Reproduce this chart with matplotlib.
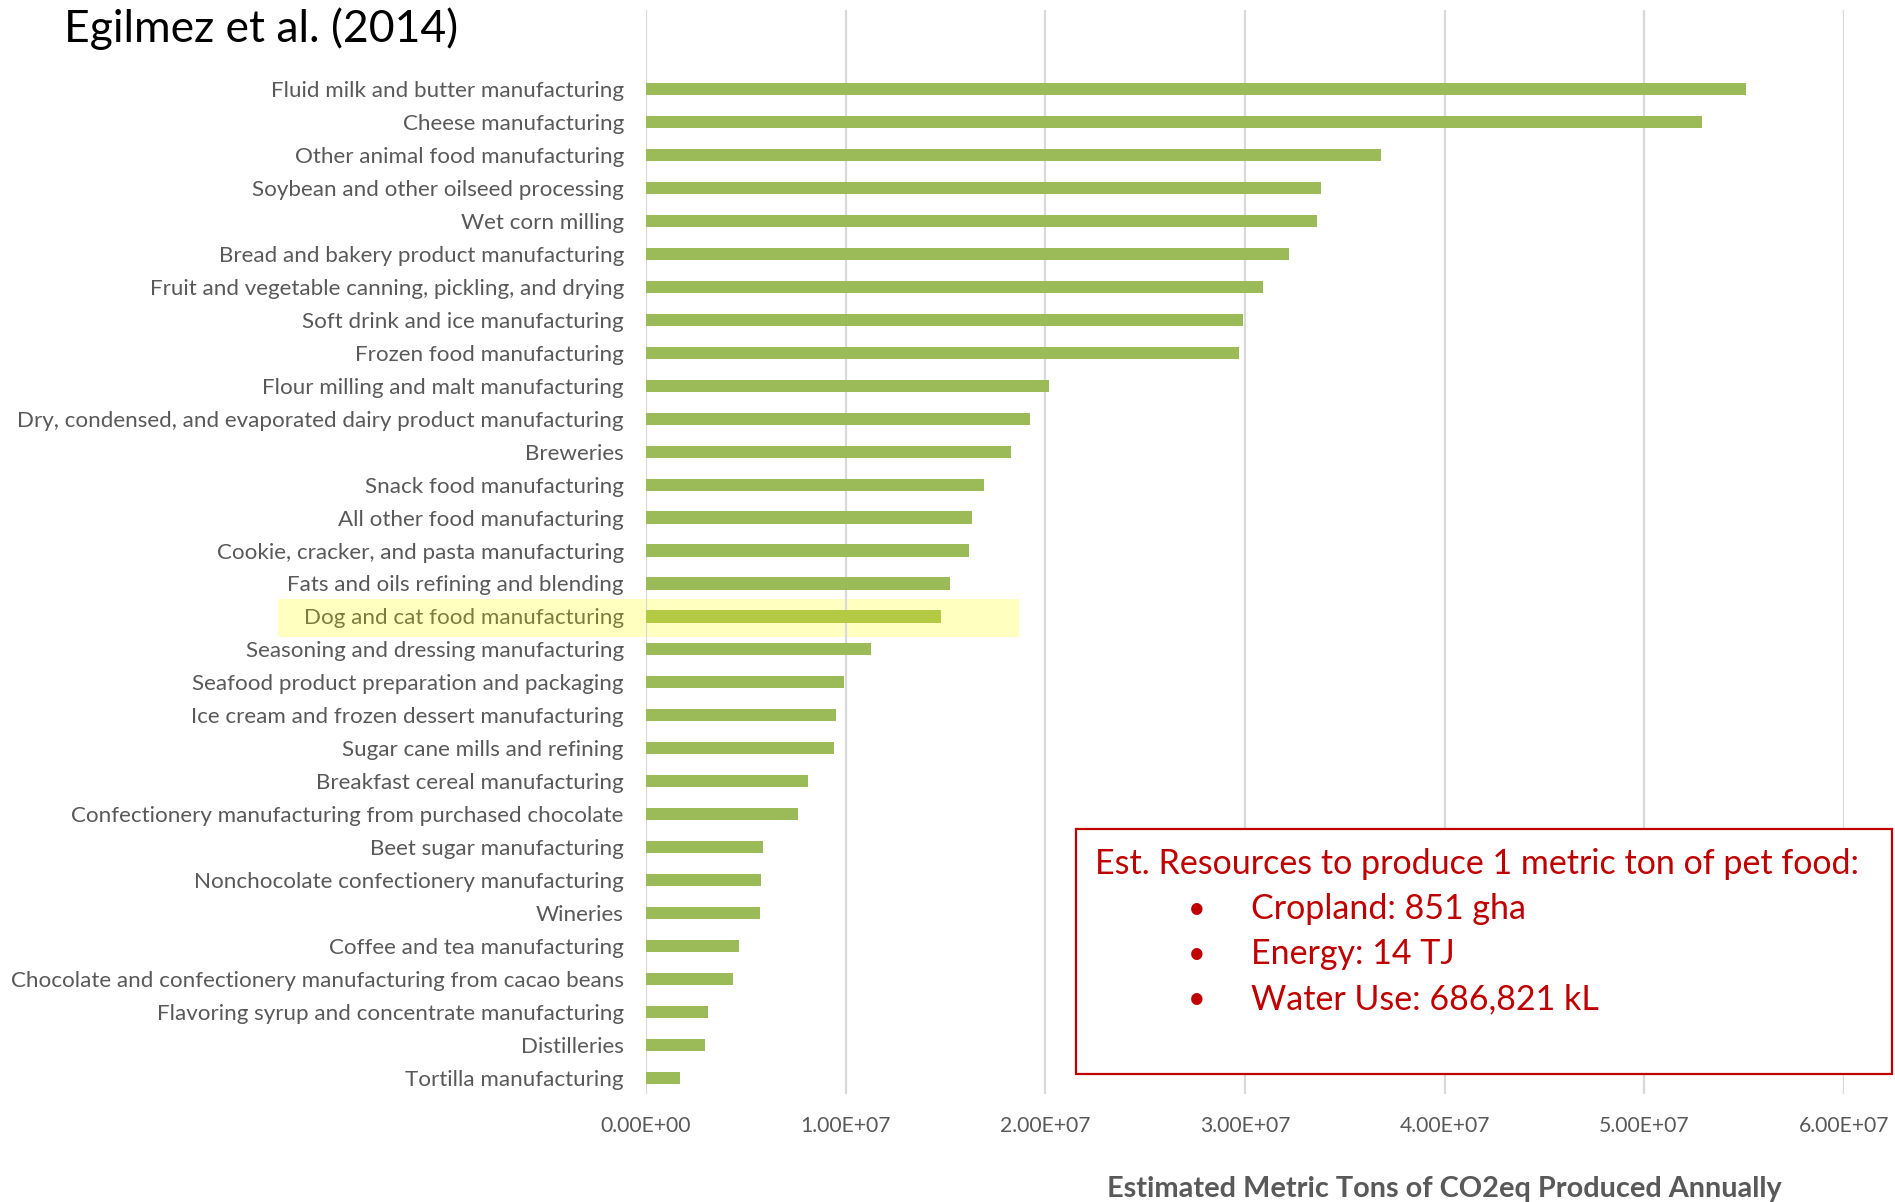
import matplotlib
matplotlib.use("Agg")
import matplotlib.pyplot as plt
from matplotlib.patches import Rectangle
from matplotlib.transforms import blended_transform_factory
import numpy as np

plt.rcParams['font.family'] = ['Lato', 'DejaVu Sans']

categories = [
    "Fluid milk and butter manufacturing",
    "Cheese manufacturing",
    "Other animal food manufacturing",
    "Soybean and other oilseed processing",
    "Wet corn milling",
    "Bread and bakery product manufacturing",
    "Fruit and vegetable canning, pickling, and drying",
    "Soft drink and ice manufacturing",
    "Frozen food manufacturing",
    "Flour milling and malt manufacturing",
    "Dry, condensed, and evaporated dairy product manufacturing",
    "Breweries",
    "Snack food manufacturing",
    "All other food manufacturing",
    "Cookie, cracker, and pasta manufacturing",
    "Fats and oils refining and blending",
    "Dog and cat food manufacturing",
    "Seasoning and dressing manufacturing",
    "Seafood product preparation and packaging",
    "Ice cream and frozen dessert manufacturing",
    "Sugar cane mills and refining",
    "Breakfast cereal manufacturing",
    "Confectionery manufacturing from purchased chocolate",
    "Beet sugar manufacturing",
    "Nonchocolate confectionery manufacturing",
    "Wineries",
    "Coffee and tea manufacturing",
    "Chocolate and confectionery manufacturing from cacao beans",
    "Flavoring syrup and concentrate manufacturing",
    "Distilleries",
    "Tortilla manufacturing",
]

co2eq_tons = [
    5.51e7, 5.29e7, 3.68e7, 3.38e7, 3.36e7, 3.22e7, 3.09e7, 2.99e7,
    2.97e7, 2.02e7, 1.925e7, 1.83e7, 1.695e7, 1.635e7, 1.62e7, 1.525e7,
    1.477e7, 1.126e7, 0.993e7, 0.95e7, 0.944e7, 0.811e7, 0.763e7,
    0.587e7, 0.575e7, 0.569e7, 0.466e7, 0.436e7, 0.309e7, 0.294e7,
    0.168e7,
]

highlight = "Dog and cat food manufacturing"

x_ticks = [0, 1e7, 2e7, 3e7, 4e7, 5e7, 6e7]
x_tick_labels = ["0.00E+00", "1.00E+07", "2.00E+07", "3.00E+07",
                 "4.00E+07", "5.00E+07", "6.00E+07"]

title = "Egilmez et al. (2014)"
x_label = "Estimated Metric Tons of CO2eq Produced Annually"
box_heading = "Est. Resources to produce 1 metric ton of pet food:"
box_items = ["Cropland: 851 gha", "Energy: 14 TJ", "Water Use: 686,821 kL"]

BAR = "#9BBB59"
BAR_HI = "#B4CA45"
GRID = "#D9D9D9"
LABEL = "#595959"
LABEL_HI = "#7C7C3C"
RED = "#C00000"

W, H = 1895, 1202
fig = plt.figure(figsize=(W / 100, H / 100), dpi=100)
ax = fig.add_axes([646 / W, 1 - 1094 / H, (1844 - 646) / W, (1094 - 10) / H])

y = np.arange(len(categories))
colors = [BAR_HI if c == highlight else BAR for c in categories]
ax.barh(y, co2eq_tons, height=0.37, color=colors, zorder=3)

ax.set_xlim(0, 6e7)
ax.set_ylim(len(categories) - 1 + 0.49, -2.4)
ax.set_xticks(x_ticks)
ax.set_xticklabels(x_tick_labels)
ax.set_yticks(y)
ax.set_yticklabels(categories)
ax.tick_params(axis='y', length=0, pad=16, labelsize=16.1, labelcolor=LABEL)
ax.tick_params(axis='x', length=0, pad=16, labelsize=15.2, labelcolor=LABEL)
for lbl in ax.get_yticklabels():
    if lbl.get_text() == highlight:
        lbl.set_color(LABEL_HI)

ax.grid(axis='x', color=GRID, linewidth=1.6, zorder=1)
ax.set_axisbelow(True)
for s in ax.spines.values():
    s.set_visible(False)

# yellow band behind the highlighted row, reaching into the label area
hi_idx = categories.index(highlight)
tr = blended_transform_factory(fig.transFigure, ax.transData)
ax.add_patch(Rectangle((278 / W, hi_idx - 0.52), (1019 - 278) / W, 1.14,
                       transform=tr, facecolor="#FFFFC0", edgecolor="none",
                       clip_on=False, zorder=0.5))

fig.text(64 / W, 1 - 29 / H, title, fontsize=32, color="black",
         ha='left', va='center')
fig.text(1444 / W, 1 - 1189 / H, x_label, fontsize=20.8, fontweight='bold',
         color=LABEL, ha='center', va='center')

# callout box with pet food resource figures
fig.add_artist(Rectangle((1076 / W, 1 - 1074 / H), (1892 - 1076) / W,
                         (1074 - 829) / H, transform=fig.transFigure,
                         facecolor="white", edgecolor=RED, linewidth=1.6,
                         zorder=5))
fig.text(1095 / W, 1 - 864 / H, box_heading, fontsize=24.5, color=RED,
         ha='left', va='center', zorder=6)
for i, item in enumerate(box_items):
    yy = 1 - (909 + i * 45) / H
    fig.text(1197 / W, yy, "\u2022", fontsize=22, color=RED,
             ha='center', va='center', zorder=6)
    fig.text(1251 / W, yy, item, fontsize=24.5, color=RED,
             ha='left', va='center', zorder=6)

fig.savefig("out.png", dpi=100, facecolor="white")
